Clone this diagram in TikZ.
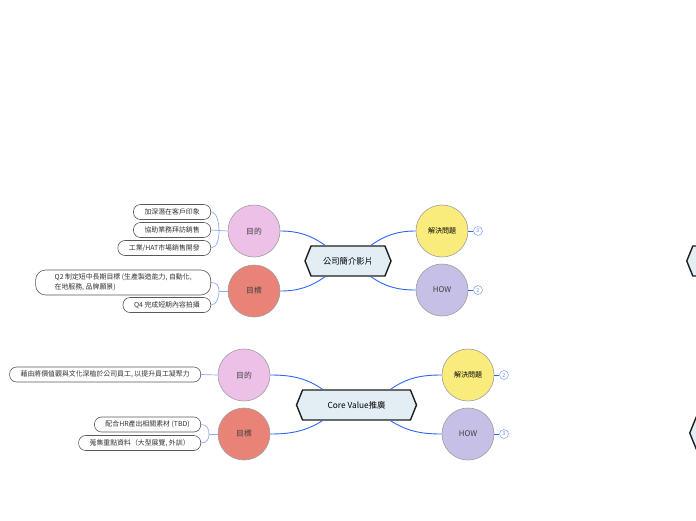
\documentclass[tikz,border=0pt]{standalone}
\usepackage{fontspec}
\setmainfont{Noto Sans CJK TC}
\usetikzlibrary{shapes.symbols,calc}
\definecolor{connc}{HTML}{2F66F2}
\definecolor{brc}{HTML}{8EAEF2}
\definecolor{pinkc}{HTML}{EDC1E7}
\definecolor{redc}{HTML}{E98378}
\definecolor{yelc}{HTML}{F9EC7C}
\definecolor{purc}{HTML}{C6BFE6}
\definecolor{hexc}{HTML}{E2EEF4}
\tikzset{
  conn/.style={draw=connc, line width=0.9pt},
  brk/.style={draw=brc, line width=0.7pt},
  pill/.style={draw=black!65, line width=0.6pt, fill=white, rounded corners=7pt,
    minimum height=15pt, inner xsep=11pt, inner ysep=0pt, anchor=east,
    font=\fontsize{6.9}{8}\selectfont, text=black!80},
  bub/.style={circle, draw=black!38, line width=0.6pt, minimum size=52pt, inner sep=0pt,
    font=\fontsize{7.8}{9}\selectfont, text=black!75},
  hexn/.style={signal, signal to=west and east, signal pointer angle=136,
    draw=black!88, line width=1.4pt, fill=hexc, minimum height=30pt, inner sep=0pt,
    font=\fontsize{8.3}{10}\selectfont},
  badge/.style={circle, draw=connc!55, line width=0.6pt, fill=white, minimum size=9pt,
    inner sep=0pt, font=\fontsize{5.5}{5.5}\selectfont, text=connc!70}
}
\begin{document}
\begin{tikzpicture}[x=1pt,y=-1pt]
\clip (0,0) rectangle (696,520);
\fill[white] (0,0) rectangle (696,520);

% ---------- group 1 ----------
\node[hexn, minimum width=86pt] (h1) at (348,261) {公司簡介影片};
\node[bub, fill=pinkc] (a1) at (254,231) {目的};
\node[bub, fill=redc] (b1) at (254,291) {目標};
\node[bub, fill=yelc, text=black, font=\fontsize{7}{8}\selectfont] (c1) at (442,231) {解決問題};
\node[bub, fill=purc] (d1) at (442,290) {HOW};
\node[badge] (e1) at (478,231) {3};
\node[badge] (f1) at (478,290) {2};

\node[pill] (p11) at (211,212) {加深潛在客戶印象};
\node[pill] (p12) at (211,230) {協助業務拜訪銷售};
\node[pill] (p13) at (211,248) {工業/HAT市場銷售開發};
\node[pill, minimum height=25pt, rounded corners=10pt, inner xsep=19pt, align=left,
  font=\fontsize{6.9}{10}\selectfont] (p14) at (211,282.5)
  {Q2 制定短中長期目標 (生產製造能力, 自動化,\\在地服務, 品牌願景)};
\node[pill] (p15) at (211,305) {Q4 完成短期內容拍攝};

\coordinate (j11) at (219,231);
\coordinate (j12) at (219,291);
\draw[brk] (a1.west) -- (p12.east);
\draw[brk] (p11.east) .. controls +(6,0) and +(0,-8) .. (j11) .. controls +(0,8) and +(6,0) .. (p13.east);
\draw[brk] (b1.west) -- (j12);
\draw[brk] (p14.east) .. controls +(6,0) and +(0,-5) .. (j12) .. controls +(0,6) and +(6,0) .. (p15.east);

\draw[conn] ($(h1.north)+(-23,0)$) .. controls +(-14,-10) and +(18,0) .. (a1.east);
\draw[conn] ($(h1.south)+(-23,0)$) .. controls +(-14,10) and +(18,0) .. (b1.east);
\draw[conn] ($(h1.north)+(23,0)$) .. controls +(14,-10) and +(-18,0) .. (c1.west);
\draw[conn] ($(h1.south)+(23,0)$) .. controls +(14,10) and +(-18,0) .. (d1.west);
\draw[conn, line width=0.7pt] (c1.east) -- (e1.west);
\draw[conn, line width=0.7pt] (d1.east) -- (f1.west);

% ---------- group 2 ----------
\node[hexn, minimum width=120pt] (h2) at (356.5,405) {Core Value推廣};
\node[bub, fill=pinkc] (a2) at (244,375) {目的};
\node[bub, fill=redc] (b2) at (244,434) {目標};
\node[bub, fill=yelc, text=black, font=\fontsize{7}{8}\selectfont] (c2) at (468,375) {解決問題};
\node[bub, fill=purc] (d2) at (468,434) {HOW};
\node[badge] (e2) at (504,375) {2};
\node[badge] (f2) at (504,434) {3};

\node[pill] (p21) at (201,374.5) {藉由將價值觀與文化深植於公司員工, 以提升員工凝聚力};
\node[pill] (p22) at (201,424.5) {配合HR產出相關素材 (TBD)};
\node[pill] (p23) at (201,443) {蒐集重點資料（大型展覽, 外訓）};

\coordinate (j22) at (209,434);
\draw[brk] (a2.west) -- (p21.east);
\draw[brk] (b2.west) -- (j22);
\draw[brk] (p22.east) .. controls +(6,0) and +(0,-5) .. (j22) .. controls +(0,5) and +(6,0) .. (p23.east);

\draw[conn] ($(h2.north)+(-34,0)$) .. controls +(-16,-11) and +(22,0) .. (a2.east);
\draw[conn] ($(h2.south)+(-34,0)$) .. controls +(-16,10) and +(22,0) .. (b2.east);
\draw[conn] ($(h2.north)+(34,0)$) .. controls +(16,-11) and +(-22,0) .. (c2.west);
\draw[conn] ($(h2.south)+(34,0)$) .. controls +(16,10) and +(-22,0) .. (d2.west);
\draw[conn, line width=0.7pt] (c2.east) -- (e2.west);
\draw[conn, line width=0.7pt] (d2.east) -- (f2.west);

% ---------- partial nodes at right edge ----------
\node[hexn, minimum width=86pt, anchor=west] (h3) at (686,261) {};
\node[hexn, minimum width=86pt, minimum height=32pt, anchor=west] (h4) at (689,433) {};
\end{tikzpicture}
\end{document}
